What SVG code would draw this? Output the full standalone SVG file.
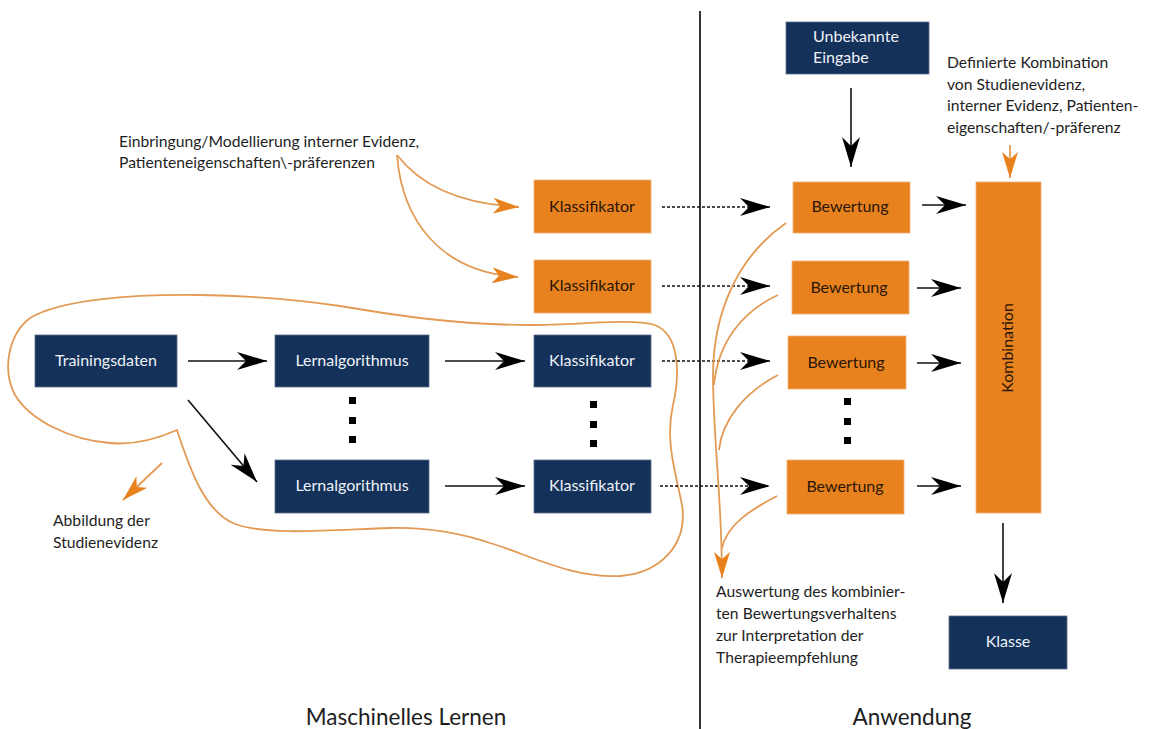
<svg xmlns="http://www.w3.org/2000/svg" width="1154" height="729" viewBox="0 0 1154 729">
<defs>
<style>
.nv{fill:#14315a;stroke:#5a6f8c;stroke-width:0.8}
.or{fill:#e8821e;stroke:#f0b27a;stroke-width:0.8}
.tw{font-family:Lato,"Liberation Sans",sans-serif;font-size:16px;fill:#eef2f7;text-anchor:middle}
.td{font-family:Lato,"Liberation Sans",sans-serif;font-size:16px;fill:#2a1606;text-anchor:middle}
.lb{font-family:Lato,"Liberation Sans",sans-serif;font-size:15.7px;fill:#1e1e1e}
.big{font-family:Lato,"Liberation Sans",sans-serif;font-size:22.5px;fill:#1e1e1e;text-anchor:middle}
.ar{stroke:#111;stroke-width:1.6;fill:none}
.da{stroke:#111;stroke-width:1.5;fill:none;stroke-dasharray:3 2}
.oc{stroke:#e39a55;stroke-width:1.8;fill:none}
.dot{fill:#000}
</style>
<marker id="ah" viewBox="0 0 30 18" refX="30" refY="9" markerWidth="30" markerHeight="18" markerUnits="userSpaceOnUse" orient="auto"><path d="M0,0 L30,9 L0,18 L9,9 Z" fill="#000"/></marker>
<marker id="oh" viewBox="0 0 26 16" refX="26" refY="8" markerWidth="26" markerHeight="16" markerUnits="userSpaceOnUse" orient="auto"><path d="M0,0 L26,8 L0,16 L7,8 Z" fill="#e8821e"/></marker>
</defs>
<rect width="1154" height="729" fill="#fff"/>
<line x1="700" y1="11" x2="700" y2="729" stroke="#333" stroke-width="2"/>

<g id="blob"><path class="oc" stroke-width="2" d="M177,430 C168,434 140,446 110,443 C70,440 30,420 15,395 C2,370 8,335 30,318 C60,300 130,294 200,295 C260,296 300,300 340,306 C400,316 460,325 530,325 C580,325 630,318 655,325 C680,335 680,375 673,405 C665,440 675,470 682,505 C688,545 660,573 620,576 C570,578 530,555 490,543 C460,533 430,527 390,528 C330,530 270,536 235,524 C205,512 190,470 177,430 Z"/></g>

<g id="connectors">
<line class="ar" x1="188" y1="361" x2="267" y2="361" marker-end="url(#ah)"/>
<line class="ar" x1="445" y1="361" x2="525" y2="361" marker-end="url(#ah)"/>
<line class="ar" x1="188" y1="400" x2="257" y2="482" marker-end="url(#ah)"/>
<line class="ar" x1="445" y1="486" x2="525" y2="486" marker-end="url(#ah)"/>
<line class="da" x1="662" y1="207" x2="770" y2="207" marker-end="url(#ah)"/>
<line class="da" x1="662" y1="286" x2="770" y2="286" marker-end="url(#ah)"/>
<line class="da" x1="662" y1="361" x2="770" y2="361" marker-end="url(#ah)"/>
<line class="da" x1="660" y1="486" x2="770" y2="486" marker-end="url(#ah)"/>
<line class="ar" x1="922" y1="205" x2="966" y2="205" marker-end="url(#ah)"/>
<line class="ar" x1="917" y1="288" x2="961" y2="288" marker-end="url(#ah)"/>
<line class="ar" x1="917" y1="363" x2="961" y2="363" marker-end="url(#ah)"/>
<line class="ar" x1="917" y1="486" x2="961" y2="486" marker-end="url(#ah)"/>
<line class="ar" x1="851" y1="88" x2="851" y2="167" marker-end="url(#ah)"/>
<line class="ar" x1="1003" y1="523" x2="1003" y2="603" marker-end="url(#ah)"/>
<path class="oc" d="M397,155 C420,185 460,204 519,207" marker-end="url(#oh)"/>
<path class="oc" d="M397,155 C402,220 440,272 518,277" marker-end="url(#oh)"/>
<line class="oc" x1="162" y1="463" x2="123" y2="500" marker-end="url(#oh)"/>
<line class="oc" x1="1010" y1="145" x2="1010" y2="178" marker-end="url(#oh)"/>
<path class="oc" d="M786,223 C740,255 712,310 713,380 C714,450 722,500 722,578" marker-end="url(#oh)"/>
<path class="oc" d="M778,295 C745,310 718,340 714,385"/>
<path class="oc" d="M778,375 C745,392 722,420 719,450"/>
<path class="oc" d="M777,496 C750,510 727,525 722,548"/>
</g>

<g id="trainingsdaten"><rect class="nv" x="35" y="335" width="142" height="52"/><text class="tw" x="106" y="366">Trainingsdaten</text></g>
<g id="lernalgo1"><rect class="nv" x="275" y="335" width="154" height="52"/><text class="tw" x="352" y="366">Lernalgorithmus</text></g>
<g id="lernalgo2"><rect class="nv" x="275" y="460" width="154" height="53"/><text class="tw" x="352" y="491">Lernalgorithmus</text></g>
<g id="klass-d1"><rect class="nv" x="534" y="335" width="117" height="52"/><text class="tw" x="592" y="366">Klassifikator</text></g>
<g id="klass-d2"><rect class="nv" x="534" y="460" width="117" height="53"/><text class="tw" x="592" y="491">Klassifikator</text></g>
<g id="klass-o1"><rect class="or" x="534" y="180" width="117" height="53"/><text class="td" x="592" y="212">Klassifikator</text></g>
<g id="klass-o2"><rect class="or" x="534" y="260" width="117" height="53"/><text class="td" x="592" y="291">Klassifikator</text></g>
<g id="dots-left">
<rect class="dot" x="349" y="397" width="7" height="7"/><rect class="dot" x="349" y="417" width="7" height="7"/><rect class="dot" x="349" y="436" width="7" height="7"/>
<rect class="dot" x="590" y="401" width="7" height="7"/><rect class="dot" x="590" y="421" width="7" height="7"/><rect class="dot" x="590" y="440" width="7" height="7"/>
</g>

<g id="unbekannte"><rect class="nv" x="786" y="22" width="143" height="52"/><text class="tw" x="813" y="42" style="text-anchor:start">Unbekannte</text><text class="tw" x="813" y="63" style="text-anchor:start">Eingabe</text></g>
<g id="bew1"><rect class="or" x="793" y="182" width="117" height="51"/><text class="td" x="850" y="212">Bewertung</text></g>
<g id="bew2"><rect class="or" x="792" y="261" width="117" height="53"/><text class="td" x="849" y="293">Bewertung</text></g>
<g id="bew3"><rect class="or" x="788" y="336" width="118" height="53"/><text class="td" x="846" y="368">Bewertung</text></g>
<g id="bew4"><rect class="or" x="787" y="460" width="117" height="54"/><text class="td" x="845" y="492">Bewertung</text></g>
<g id="dots-right"><rect class="dot" x="844" y="398" width="7" height="7"/><rect class="dot" x="844" y="418" width="7" height="7"/><rect class="dot" x="844" y="437" width="7" height="7"/></g>
<g id="kombination"><rect class="or" x="976" y="182" width="65" height="331"/><text class="td" transform="translate(1013,348) rotate(-90)">Kombination</text></g>
<g id="klasse"><rect class="nv" x="949" y="616" width="118" height="53"/><text class="tw" x="1008" y="647">Klasse</text></g>

<g id="labels">
<text class="lb" x="119" y="147">Einbringung/Modellierung interner Evidenz,</text>
<text class="lb" x="119" y="168">Patienteneigenschaften\-präferenzen</text>
<text class="lb" x="947" y="68">Definierte Kombination</text>
<text class="lb" x="947" y="90">von Studienevidenz,</text>
<text class="lb" x="947" y="111">interner Evidenz, Patienten-</text>
<text class="lb" x="947" y="133">eigenschaften/-präferenz</text>
<text class="lb" x="53" y="526">Abbildung der</text>
<text class="lb" x="53" y="548">Studienevidenz</text>
<text class="lb" x="716" y="597">Auswertung des kombinier-</text>
<text class="lb" x="716" y="619">ten Bewertungsverhaltens</text>
<text class="lb" x="716" y="641">zur Interpretation der</text>
<text class="lb" x="716" y="663">Therapieempfehlung</text>
<text class="big" x="406" y="725">Maschinelles Lernen</text>
<text class="big" x="912" y="725">Anwendung</text>
</g>
</svg>
